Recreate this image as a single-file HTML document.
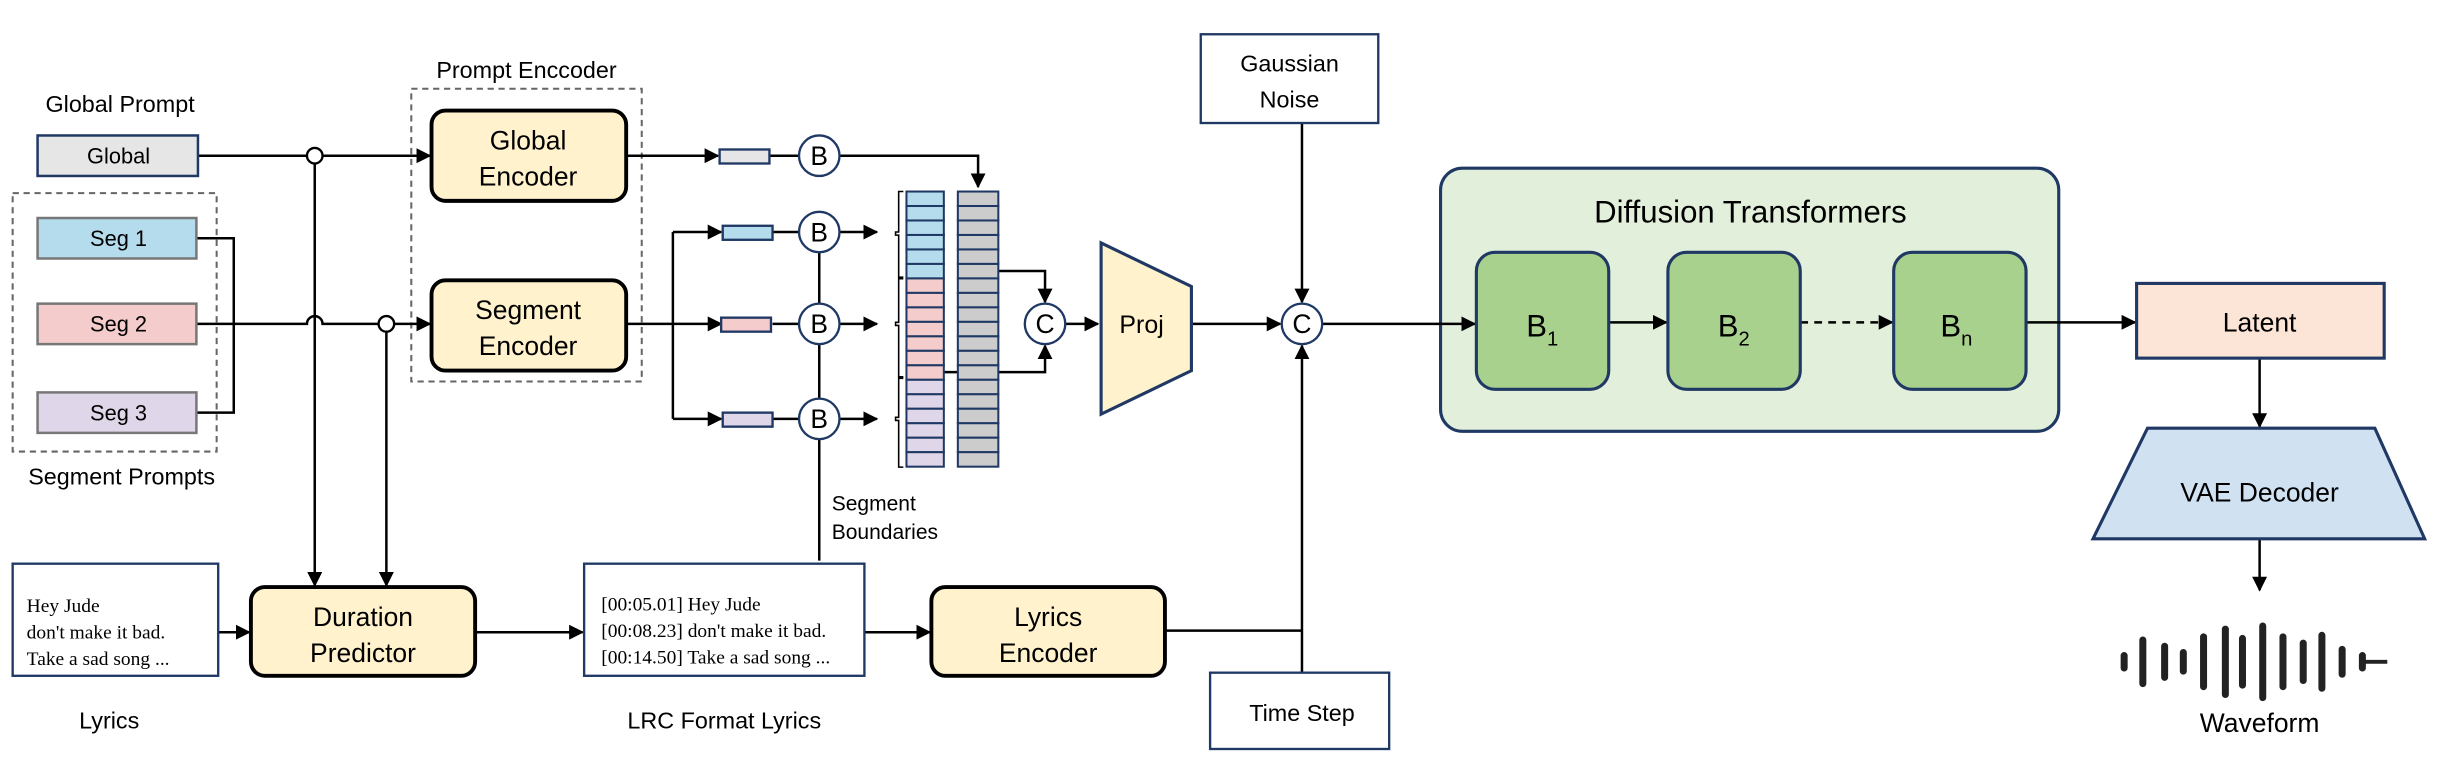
<!DOCTYPE html>
<html><head><meta charset="utf-8"><style>
html,body{margin:0;padding:0;background:#fff;}
svg{display:block;}
text{font-family:"Liberation Sans",sans-serif;fill:#000;}
.serif{font-family:"Liberation Serif",serif;}
</style></head><body>
<svg width="2442" height="763" viewBox="0 0 1568 490" xmlns="http://www.w3.org/2000/svg">
<defs>
<marker id="a" viewBox="0 0 10 10" refX="9" refY="5" markerWidth="6" markerHeight="6" orient="auto"><path d="M0,0L10,5L0,10z" fill="#000"/></marker>
</defs>
<!-- dashed boxes -->
<rect x="264" y="57" width="148" height="188" fill="none" stroke="#666" stroke-width="1.3" stroke-dasharray="4,3"/>
<rect x="8" y="124" width="131" height="166" fill="none" stroke="#666" stroke-width="1.3" stroke-dasharray="4,3"/>
<!-- DiT -->
<rect x="925" y="108" width="397" height="169" rx="14" fill="#e2efda" stroke="#1f3864" stroke-width="2"/>
<text x="1124" y="143" font-size="20" text-anchor="middle">Diffusion Transformers</text>
<g stroke="#000" stroke-width="1.6" fill="none">
<path d="M127,100H276" marker-end="url(#a)"/>
<path d="M126,153H150V265H126"/>
<path d="M126,208H197A5,5 0 0 1 207,208H276" marker-end="url(#a)"/>
<path d="M202,105V376" marker-end="url(#a)"/>
<path d="M248,213V376" marker-end="url(#a)"/>
<path d="M140,406H160" marker-end="url(#a)"/>
<path d="M305,406H374" marker-end="url(#a)"/>
<path d="M555,406H597" marker-end="url(#a)"/>
<path d="M748,405H836"/>
<path d="M836,432V222" marker-end="url(#a)"/>
<path d="M836,79V194" marker-end="url(#a)"/>
<path d="M402,100H461" marker-end="url(#a)"/>
<path d="M494,100H513M539,100H628V120" marker-end="url(#a)"/>
<path d="M402,208H432"/>
<path d="M432,149V269"/>
<path d="M432,149H463" marker-end="url(#a)"/>
<path d="M432,208H463" marker-end="url(#a)"/>
<path d="M432,269H463" marker-end="url(#a)"/>
<path d="M496,149H513M496,208H513M496,269H513"/>
<path d="M539,149H563" marker-end="url(#a)"/>
<path d="M539,208H563" marker-end="url(#a)"/>
<path d="M539,269H563" marker-end="url(#a)"/>
<path d="M526,162V195M526,221V256M526,282V360"/>
<path stroke-width="1" d="M580,123H577V149H575V151H577V178H580M580,179H577V207H575V209H577V242H580M580,243H577V268H575V270H577V300H580"/>
<path d="M641,174H671V194" marker-end="url(#a)"/>
<path d="M606,239H615M641,239H671V222" marker-end="url(#a)"/>
<path d="M684,208H705" marker-end="url(#a)"/>
<path d="M765,208H822" marker-end="url(#a)"/>
<path d="M849,208H947" marker-end="url(#a)"/>
<path d="M1033,207H1070" marker-end="url(#a)"/>
<path d="M1156,207H1215" stroke-dasharray="5,4" marker-end="url(#a)"/>
<path d="M1301,207H1371" marker-end="url(#a)"/>
<path d="M1451,230V274" marker-end="url(#a)"/>
<path d="M1451,345V379" marker-end="url(#a)"/>
</g>
<!-- prompt boxes -->
<rect x="24" y="87" width="103" height="26" fill="#e6e6e6" stroke="#1f3864" stroke-width="1.6"/>
<rect x="24" y="140" width="102" height="26" fill="#b4dcec" stroke="#777" stroke-width="1.6"/>
<rect x="24" y="195" width="102" height="26" fill="#f4cccc" stroke="#777" stroke-width="1.6"/>
<rect x="24" y="252" width="102" height="26" fill="#e0d6ea" stroke="#777" stroke-width="1.6"/>
<g font-size="14" text-anchor="middle">
<text x="76" y="105">Global</text>
<text x="76" y="158">Seg 1</text>
<text x="76" y="213">Seg 2</text>
<text x="76" y="270">Seg 3</text>
<text x="77" y="72" font-size="15">Global Prompt</text>
<text x="78" y="311" font-size="15">Segment Prompts</text>
<text x="338" y="50" font-size="15">Prompt Enccoder</text>
<text x="70" y="468" font-size="15">Lyrics</text>
<text x="465" y="468" font-size="15">LRC Format Lyrics</text>
</g>
<circle cx="202" cy="100" r="5" fill="#fff" stroke="#000" stroke-width="1.5"/>
<circle cx="248" cy="208" r="5" fill="#fff" stroke="#000" stroke-width="1.5"/>
<g fill="#fff2cc" stroke="#000" stroke-width="2.5">
<rect x="277" y="71" width="125" height="58" rx="9"/>
<rect x="277" y="180" width="125" height="58" rx="9"/>
<rect x="161" y="377" width="144" height="57" rx="9"/>
<rect x="598" y="377" width="150" height="57" rx="9"/>
</g>
<g font-size="17" text-anchor="middle">
<text x="339" y="96">Global</text><text x="339" y="119">Encoder</text>
<text x="339" y="205">Segment</text><text x="339" y="228">Encoder</text>
<text x="233" y="402">Duration</text><text x="233" y="425">Predictor</text>
<text x="673" y="402">Lyrics</text><text x="673" y="425">Encoder</text>
</g>
<rect x="8" y="362" width="132" height="72" fill="#fff" stroke="#1f3864" stroke-width="1.5"/>
<rect x="375" y="362" width="180" height="72" fill="#fff" stroke="#1f3864" stroke-width="1.5"/>
<g font-size="12.5">
<text class="serif" x="17" y="393">Hey Jude</text>
<text class="serif" x="17" y="410">don't make it bad.</text>
<text class="serif" x="17" y="427">Take a sad song ...</text>
<text class="serif" x="386" y="392">[00:05.01] Hey Jude</text>
<text class="serif" x="386" y="409">[00:08.23] don't make it bad.</text>
<text class="serif" x="386" y="426">[00:14.50] Take a sad song ...</text>
</g>
<text x="534" y="328" font-size="13.5">Segment</text>
<text x="534" y="346" font-size="13.5">Boundaries</text>
<g stroke="#1f3864" stroke-width="1.5">
<rect x="462" y="96" width="32" height="9" fill="#e6e6e6"/>
<rect x="464" y="145" width="32" height="9" fill="#b4dcec"/>
<rect x="463" y="204" width="32" height="9" fill="#f4cccc"/>
<rect x="464" y="265" width="32" height="9" fill="#e0d6ea"/>
</g>
<g fill="#fff" stroke="#1f3864" stroke-width="1.5">
<circle cx="526" cy="100" r="13"/><circle cx="526" cy="149" r="13"/><circle cx="526" cy="208" r="13"/><circle cx="526" cy="269" r="13"/>
<circle cx="671" cy="208" r="13"/><circle cx="836" cy="208" r="13"/>
</g>
<g font-size="17" text-anchor="middle">
<text x="526" y="106">B</text><text x="526" y="155">B</text><text x="526" y="214">B</text><text x="526" y="275">B</text>
<text x="671" y="214">C</text><text x="836" y="214">C</text>
</g>
<g stroke="#1f3864" stroke-width="1.3">
<rect x="582" y="123" width="24" height="9.3" fill="#b4dcec"/><rect x="582" y="132.3" width="24" height="9.3" fill="#b4dcec"/><rect x="582" y="141.6" width="24" height="9.3" fill="#b4dcec"/><rect x="582" y="150.9" width="24" height="9.3" fill="#b4dcec"/><rect x="582" y="160.2" width="24" height="9.3" fill="#b4dcec"/><rect x="582" y="169.5" width="24" height="9.3" fill="#b4dcec"/>
<rect x="582" y="178.8" width="24" height="9.3" fill="#f4cccc"/><rect x="582" y="188.1" width="24" height="9.3" fill="#f4cccc"/><rect x="582" y="197.4" width="24" height="9.3" fill="#f4cccc"/><rect x="582" y="206.7" width="24" height="9.3" fill="#f4cccc"/><rect x="582" y="216" width="24" height="9.3" fill="#f4cccc"/><rect x="582" y="225.3" width="24" height="9.3" fill="#f4cccc"/><rect x="582" y="234.6" width="24" height="9.3" fill="#f4cccc"/>
<rect x="582" y="243.9" width="24" height="9.3" fill="#e0d6ea"/><rect x="582" y="253.2" width="24" height="9.3" fill="#e0d6ea"/><rect x="582" y="262.5" width="24" height="9.3" fill="#e0d6ea"/><rect x="582" y="271.8" width="24" height="9.3" fill="#e0d6ea"/><rect x="582" y="281.1" width="24" height="9.3" fill="#e0d6ea"/><rect x="582" y="290.4" width="24" height="9.3" fill="#e0d6ea"/>
</g>
<g stroke="#1f3864" stroke-width="1.3" fill="#cccccc">
<rect x="615" y="123" width="26" height="9.3"/><rect x="615" y="132.3" width="26" height="9.3"/><rect x="615" y="141.6" width="26" height="9.3"/><rect x="615" y="150.9" width="26" height="9.3"/><rect x="615" y="160.2" width="26" height="9.3"/><rect x="615" y="169.5" width="26" height="9.3"/><rect x="615" y="178.8" width="26" height="9.3"/><rect x="615" y="188.1" width="26" height="9.3"/><rect x="615" y="197.4" width="26" height="9.3"/><rect x="615" y="206.7" width="26" height="9.3"/><rect x="615" y="216" width="26" height="9.3"/><rect x="615" y="225.3" width="26" height="9.3"/><rect x="615" y="234.6" width="26" height="9.3"/><rect x="615" y="243.9" width="26" height="9.3"/><rect x="615" y="253.2" width="26" height="9.3"/><rect x="615" y="262.5" width="26" height="9.3"/><rect x="615" y="271.8" width="26" height="9.3"/><rect x="615" y="281.1" width="26" height="9.3"/><rect x="615" y="290.4" width="26" height="9.3"/>
</g>
<path d="M707,156L765,184V238L707,266Z" fill="#fff2cc" stroke="#1f3864" stroke-width="2"/>
<text x="733" y="214" font-size="16" text-anchor="middle">Proj</text>
<rect x="771" y="22" width="114" height="57" fill="#fff" stroke="#1f3864" stroke-width="1.5"/>
<text x="828" y="46" font-size="15" text-anchor="middle">Gaussian</text>
<text x="828" y="69" font-size="15" text-anchor="middle">Noise</text>
<rect x="777" y="432" width="115" height="49" fill="#fff" stroke="#1f3864" stroke-width="1.5"/>
<text x="836" y="463" font-size="15" text-anchor="middle">Time Step</text>
<g fill="#a9d18e" stroke="#1f3864" stroke-width="2">
<rect x="948" y="162" width="85" height="88" rx="12"/>
<rect x="1071" y="162" width="85" height="88" rx="12"/>
<rect x="1216" y="162" width="85" height="88" rx="12"/>
</g>
<g font-size="20">
<text x="980" y="216">B<tspan font-size="13" dy="6">1</tspan></text>
<text x="1103" y="216">B<tspan font-size="13" dy="6">2</tspan></text>
<text x="1246" y="216">B<tspan font-size="13" dy="6">n</tspan></text>
</g>
<rect x="1372" y="182" width="159" height="48" fill="#fce4d6" stroke="#1f3864" stroke-width="2"/>
<text x="1451" y="213" font-size="17" text-anchor="middle">Latent</text>
<path d="M1379,275H1525L1557,346H1344Z" fill="#d0e1f2" stroke="#1f3864" stroke-width="2"/>
<text x="1451" y="322" font-size="17" text-anchor="middle">VAE Decoder</text>
<g stroke="#222" stroke-width="4.5" stroke-linecap="round">
<path d="M1364,421V429M1376,411V439M1390,415V435M1402,419V431M1415,409V441M1429,404V446M1440,410V440M1453,402V448M1466,409V441M1479,413V437M1491,408V442M1504,417V433M1517,421V429"/>
</g>
<path d="M1518,425H1533" stroke="#222" stroke-width="2.5"/>
<text x="1451" y="470" font-size="17" text-anchor="middle">Waveform</text>
</svg>
</body></html>
